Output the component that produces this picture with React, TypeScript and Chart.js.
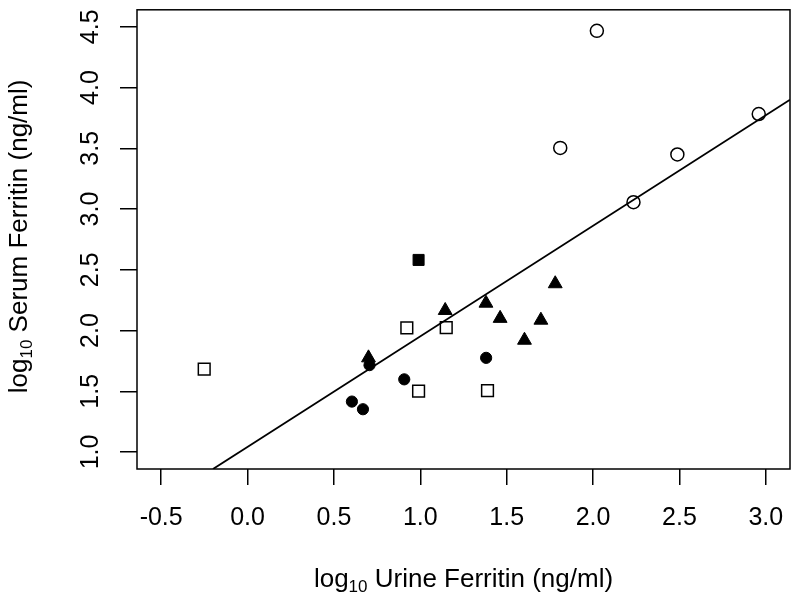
import React, { useEffect, useRef } from "react";
import { Chart, registerables } from "chart.js";

Chart.register(...registerables);

// Open circles
const openCircleX = [2.022, 1.81, 2.488, 2.234, 2.959];
const openCircleY = [4.467, 3.503, 3.449, 3.056, 3.782];
// Filled square
const filledSquareX = [0.99];
const filledSquareY = [2.581];
// Filled triangles
const triangleX = [0.7, 1.144, 1.38, 1.462, 1.603, 1.698, 1.781];
const triangleY = [1.775, 2.165, 2.225, 2.1, 1.92, 2.085, 2.385];
// Filled circles
const filledCircleX = [0.604, 0.668, 0.706, 0.907, 1.381];
const filledCircleY = [1.415, 1.352, 1.715, 1.598, 1.775];
// Open squares
const openSquareX = [-0.251, 0.922, 0.99, 1.15, 1.389];
const openSquareY = [1.683, 2.021, 1.502, 2.024, 1.505];
// Regression line end points
const fitLineX = [-0.2, 3.14];
const fitLineY = [0.86, 3.9];

const xTicks = [-0.5, 0, 0.5, 1, 1.5, 2, 2.5, 3];
const yTicks = [1, 1.5, 2, 2.5, 3, 3.5, 4, 4.5];
const xRange = [-0.64, 3.14];
const yRange = [0.86, 4.64];

const xTitleMain = "log";
const xTitleSub = "10";
const xTitleRest = " Urine Ferritin (ng/ml)";
const yTitleMain = "log";
const yTitleSub = "10";
const yTitleRest = " Serum Ferritin (ng/ml)";

const FONT = "'Liberation Sans', Arial, Helvetica, sans-serif";

function pts(xs: number[], ys: number[]) {
  return xs.map((x, i) => ({ x, y: ys[i] }));
}

function drawSubTitle(
  ctx: CanvasRenderingContext2D,
  main: string,
  sub: string,
  rest: string,
  size: number,
  subSize: number,
  subShift: number
) {
  ctx.font = `${size}px ${FONT}`;
  const w1 = ctx.measureText(main).width;
  const w3 = ctx.measureText(rest).width;
  ctx.font = `${subSize}px ${FONT}`;
  const w2 = ctx.measureText(sub).width;
  const total = w1 + w2 + w3;
  let x = -total / 2;
  ctx.textAlign = "left";
  ctx.textBaseline = "alphabetic";
  ctx.fillStyle = "#000";
  ctx.font = `${size}px ${FONT}`;
  ctx.fillText(main, x, 0);
  x += w1;
  ctx.font = `${subSize}px ${FONT}`;
  ctx.fillText(sub, x, subShift);
  x += w2;
  ctx.font = `${size}px ${FONT}`;
  ctx.fillText(rest, x, 0);
}

const framePlugin = {
  id: "frameAndTitles",
  afterDraw(chart: any) {
    const { ctx, chartArea } = chart;
    ctx.save();
    ctx.strokeStyle = "#000";
    ctx.lineWidth = 1.5;
    ctx.strokeRect(
      chartArea.left,
      chartArea.top,
      chartArea.right - chartArea.left,
      chartArea.bottom - chartArea.top
    );
    // x title
    ctx.save();
    ctx.translate((chartArea.left + chartArea.right) / 2, 587);
    drawSubTitle(ctx, xTitleMain, xTitleSub, xTitleRest, 26, 17, 4.5);
    ctx.restore();
    // y title
    ctx.save();
    ctx.translate(27, (chartArea.top + chartArea.bottom) / 2 - 3);
    ctx.rotate(-Math.PI / 2);
    drawSubTitle(ctx, yTitleMain, yTitleSub, yTitleRest, 26, 17, 4.5);
    ctx.restore();
    ctx.restore();
  },
};

export default function App() {
  const canvasRef = useRef<HTMLCanvasElement | null>(null);

  useEffect(() => {
    const canvas = canvasRef.current;
    if (!canvas) return;
    const marker = {
      borderColor: "#000",
      borderWidth: 1.5,
      showLine: false,
    };
    const chart = new Chart(canvas, {
      type: "scatter",
      data: {
        datasets: [
          {
            type: "line",
            data: pts(fitLineX, fitLineY),
            borderColor: "#000",
            borderWidth: 1.8,
            pointRadius: 0,
            showLine: true,
            fill: false,
          } as any,
          {
            ...marker,
            data: pts(openCircleX, openCircleY),
            pointStyle: "circle",
            pointRadius: 6.5,
            backgroundColor: "rgba(0,0,0,0)",
          },
          {
            ...marker,
            data: pts(openSquareX, openSquareY),
            pointStyle: "rect",
            pointRadius: 8.3,
            backgroundColor: "rgba(0,0,0,0)",
          },
          {
            ...marker,
            data: pts(filledSquareX, filledSquareY),
            pointStyle: "rect",
            pointRadius: 7.8,
            backgroundColor: "#000",
            borderWidth: 1,
          },
          {
            ...marker,
            data: pts(filledCircleX, filledCircleY),
            pointStyle: "circle",
            pointRadius: 5.6,
            backgroundColor: "#000",
            borderWidth: 1,
          },
          {
            ...marker,
            data: pts(triangleX, triangleY),
            pointStyle: "triangle",
            pointRadius: 8,
            backgroundColor: "#000",
            borderWidth: 1,
          },
        ],
      },
      options: {
        animation: false,
        responsive: false,
        devicePixelRatio: 1,
        layout: { padding: { top: 8, right: 10, left: 0, bottom: 0 } },
        plugins: {
          legend: { display: false },
          tooltip: { enabled: false },
        },
        scales: {
          x: {
            type: "linear",
            position: "bottom",
            min: xRange[0],
            max: xRange[1],
            afterBuildTicks: (scale: any) => {
              scale.ticks = xTicks.map((v) => ({ value: v }));
            },
            afterFit: (scale: any) => {
              scale.height = 131;
              scale.paddingLeft = 0;
              scale.paddingRight = 0;
            },
            grid: {
              display: true,
              drawOnChartArea: false,
              drawTicks: true,
              tickLength: 16,
              color: "#000",
              lineWidth: 1.5,
            },
            border: { display: false },
            ticks: {
              color: "#000",
              font: { family: FONT, size: 25 },
              padding: 18,
              maxRotation: 0,
              minRotation: 0,
              autoSkip: false,
              callback: (v: any) => Number(v).toFixed(1),
            },
          },
          y: {
            type: "linear",
            position: "left",
            min: yRange[0],
            max: yRange[1],
            afterBuildTicks: (scale: any) => {
              scale.ticks = yTicks.map((v) => ({ value: v }));
            },
            afterFit: (scale: any) => {
              scale.width = 137;
              scale.paddingTop = 0;
              scale.paddingBottom = 0;
            },
            grid: {
              display: true,
              drawOnChartArea: false,
              drawTicks: true,
              tickLength: 17,
              color: "#000",
              lineWidth: 1.5,
            },
            border: { display: false },
            ticks: {
              color: "#000",
              font: { family: FONT, size: 25 },
              padding: 12,
              minRotation: 90,
              maxRotation: 90,
              crossAlign: "center",
              autoSkip: false,
              callback: (v: any) => Number(v).toFixed(1),
            },
          },
        },
      } as any,
      plugins: [framePlugin],
    });
    return () => chart.destroy();
  }, []);

  return (
    <div style={{ position: "absolute", left: 0, top: 0, width: 800, height: 600, background: "#fff" }}>
      <canvas ref={canvasRef} width={800} height={600} style={{ display: "block" }} />
    </div>
  );
}
